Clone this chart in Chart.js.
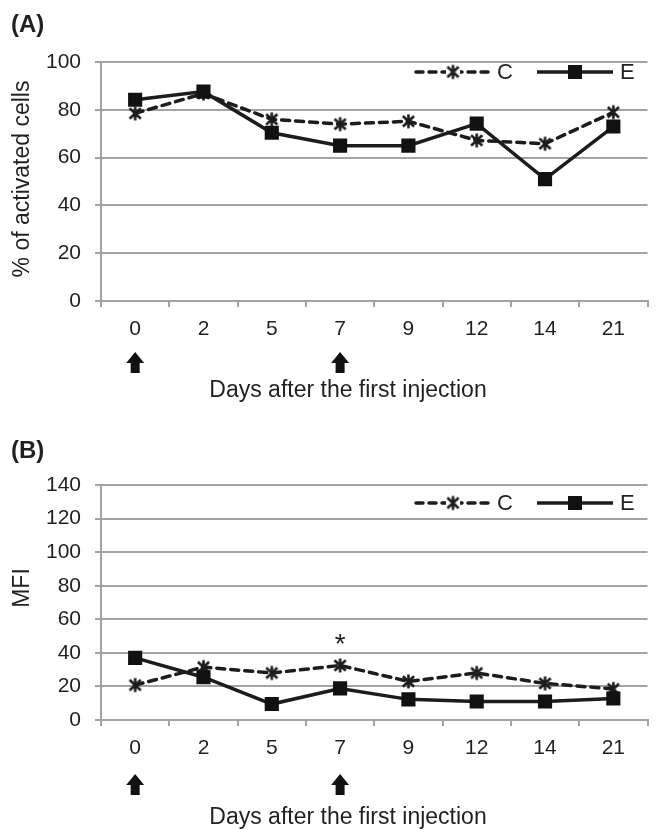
<!DOCTYPE html>
<html>
<head>
<meta charset="utf-8">
<script src="https://cdn.jsdelivr.net/npm/chart.js@4/dist/chart.umd.min.js"></script>
<style>
  html, body { margin: 0; padding: 0; background: #ffffff; }
  .panel { position: relative; width: 659px; }
  canvas { display: block; }
</style>
</head>
<body>
<div class="panel" style="height:414px"><canvas id="cA" width="659" height="414"></canvas></div>
<div class="panel" style="height:415px"><canvas id="cB" width="659" height="415"></canvas></div>
<script>
// ---- data ----
const days = ['0', '2', '5', '7', '9', '12', '14', '21'];
const injectionDays = ['0', '7'];
const activatedC = [78.5, 86.8, 76, 74, 75.2, 67.2, 65.8, 79];
const activatedE = [84.2, 87.6, 70.4, 65, 65, 74.2, 51, 73];
const mfiC = [20.8, 31.5, 28, 32.5, 23, 28, 21.8, 18.5];
const mfiE = [37, 25.5, 9.5, 18.8, 12.3, 11, 11, 12.8];
const mfiSignificant = [{ day: '7', y: 48 }];
const seriesNames = ['C', 'E'];

const FONT = "'Liberation Sans', Arial, Helvetica, sans-serif";
const TXT = '#231f20';
const GRID = '#a3a3a3';
const LINE = '#1c1c1c';

// asterisk marker (X with vertical bar, like office "*" marker)
function makeStar(size) {
  const c = document.createElement('canvas');
  c.width = size; c.height = size;
  const g = c.getContext('2d');
  const m = size / 2, r = size / 2 - 1.5;
  g.strokeStyle = LINE; g.lineWidth = 2.6; g.lineCap = 'butt';
  g.beginPath();
  g.moveTo(m - r * 0.8, m - r * 0.75); g.lineTo(m + r * 0.8, m + r * 0.75);
  g.moveTo(m + r * 0.8, m - r * 0.75); g.lineTo(m - r * 0.8, m + r * 0.75);
  g.moveTo(m, m - r); g.lineTo(m, m + r);
  g.stroke();
  return c;
}
const starImg = makeStar(17);

function drawArrow(ctx, x, yTop) {
  ctx.save();
  ctx.fillStyle = '#111';
  ctx.beginPath();
  ctx.moveTo(x, yTop);
  ctx.lineTo(x + 9, yTop + 11);
  ctx.lineTo(x + 4.5, yTop + 11);
  ctx.lineTo(x + 4.5, yTop + 21);
  ctx.lineTo(x - 4.5, yTop + 21);
  ctx.lineTo(x - 4.5, yTop + 11);
  ctx.lineTo(x - 9, yTop + 11);
  ctx.closePath();
  ctx.fill();
  ctx.restore();
}

function decorPlugin(cfg) {
  return {
    id: 'decor',
    afterDraw(chart) {
      const ctx = chart.ctx;
      const xs = chart.scales.x, ys = chart.scales.y;
      const ca = chart.chartArea;
      ctx.save();
      // panel label
      ctx.fillStyle = TXT;
      ctx.font = 'bold 24px ' + FONT;
      ctx.textAlign = 'left';
      ctx.textBaseline = 'middle';
      ctx.fillText(cfg.panel, 11, cfg.panelY);
      // y title
      ctx.save();
      ctx.translate(23, cfg.yTitleY);
      ctx.rotate(-Math.PI / 2);
      ctx.font = '23px ' + FONT;
      ctx.textAlign = 'center';
      ctx.textBaseline = 'middle';
      ctx.fillText(cfg.yTitle, 0, 0);
      ctx.restore();
      // arrows
      injectionDays.forEach(d => {
        const x = xs.getPixelForValue(days.indexOf(d));
        drawArrow(ctx, x, ca.bottom + cfg.arrowOff);
      });
      // x title
      ctx.font = '23px ' + FONT;
      ctx.textAlign = 'center';
      ctx.textBaseline = 'middle';
      ctx.fillText('Days after the first injection', 348, ca.bottom + cfg.xTitleOff);
      // legend
      const ly = cfg.legendY;
      ctx.strokeStyle = LINE;
      ctx.lineWidth = 3.5;
      ctx.lineCap = 'round';
      ctx.setLineDash([7, 6]);
      ctx.beginPath(); ctx.moveTo(416, ly); ctx.lineTo(489, ly); ctx.stroke();
      ctx.setLineDash([]);
      ctx.lineCap = 'butt';
      ctx.fillStyle = '#fff';
      ctx.fillRect(446, ly - 6, 14, 12);
      ctx.drawImage(starImg, 453 - 8.5, ly - 8.5);
      ctx.fillStyle = TXT;
      ctx.font = '22px ' + FONT;
      ctx.textAlign = 'left';
      ctx.textBaseline = 'middle';
      ctx.fillText(seriesNames[0], 497, ly + 1);
      ctx.lineWidth = 3.5;
      ctx.beginPath(); ctx.moveTo(537, ly); ctx.lineTo(613, ly); ctx.stroke();
      ctx.fillStyle = '#111';
      ctx.fillRect(575 - 7, ly - 7, 14, 14);
      ctx.fillStyle = TXT;
      ctx.fillText(seriesNames[1], 620, ly + 1);
      // significance marks
      (cfg.marks || []).forEach(m => {
        const x = xs.getPixelForValue(days.indexOf(m.day));
        const y = ys.getPixelForValue(m.y);
        ctx.font = '28px ' + FONT;
        ctx.textAlign = 'center';
        ctx.textBaseline = 'alphabetic';
        ctx.fillText('*', x, y + 14);
      });
      ctx.restore();
    }
  };
}

function makeChart(id, cData, eData, yMax, plotTop, xAxisH, dcfg) {
  return new Chart(document.getElementById(id), {
    type: 'line',
    data: {
      labels: days,
      datasets: [
        {
          label: seriesNames[0], data: cData, order: 1,
          borderColor: LINE, borderWidth: 3.5, borderDash: [8, 6], borderCapStyle: 'round',
          pointStyle: starImg, pointRadius: 8, pointHoverRadius: 8,
          fill: false, tension: 0
        },
        {
          label: seriesNames[1], data: eData, order: 0,
          borderColor: LINE, borderWidth: 3.5,
          pointStyle: 'rect', pointRadius: 10, pointHoverRadius: 10,
          pointBackgroundColor: '#111', pointBorderColor: '#111', pointBorderWidth: 0,
          fill: false, tension: 0
        }
      ]
    },
    options: {
      responsive: false,
      animation: false,
      devicePixelRatio: 1,
      events: [],
      layout: { padding: { top: plotTop, right: 6, left: 0, bottom: 0 } },
      plugins: { legend: { display: false }, title: { display: false }, tooltip: { enabled: false } },
      scales: {
        x: {
          type: 'category', offset: true,
          grid: { offset: true, drawOnChartArea: false, drawTicks: true, tickLength: 6, color: GRID, lineWidth: 2 },
          border: { display: true, color: GRID, width: 2 },
          ticks: { color: TXT, font: { family: FONT, size: 21 }, padding: 10, maxRotation: 0, autoSkip: false },
          afterFit(s) { s.height = xAxisH; }
        },
        y: {
          min: 0, max: yMax,
          grid: { color: GRID, lineWidth: 2, tickLength: 6, drawTicks: true },
          border: { display: true, color: GRID, width: 2 },
          ticks: { stepSize: 20, color: TXT, font: { family: FONT, size: 21 }, padding: 14 },
          afterFit(s) { s.width = 101; }
        }
      }
    },
    plugins: [decorPlugin(dcfg)]
  });
}

makeChart('cA', activatedC, activatedE, 100, 62, 113, {
  panel: '(A)', panelY: 25, yTitle: '% of activated cells', yTitleY: 179,
  arrowOff: 51, xTitleOff: 90, legendY: 72
});
makeChart('cB', mfiC, mfiE, 140, 71, 109, {
  panel: '(B)', panelY: 37, yTitle: 'MFI', yTitleY: 174,
  arrowOff: 54, xTitleOff: 98, legendY: 89, marks: mfiSignificant
});
</script>
</body>
</html>
